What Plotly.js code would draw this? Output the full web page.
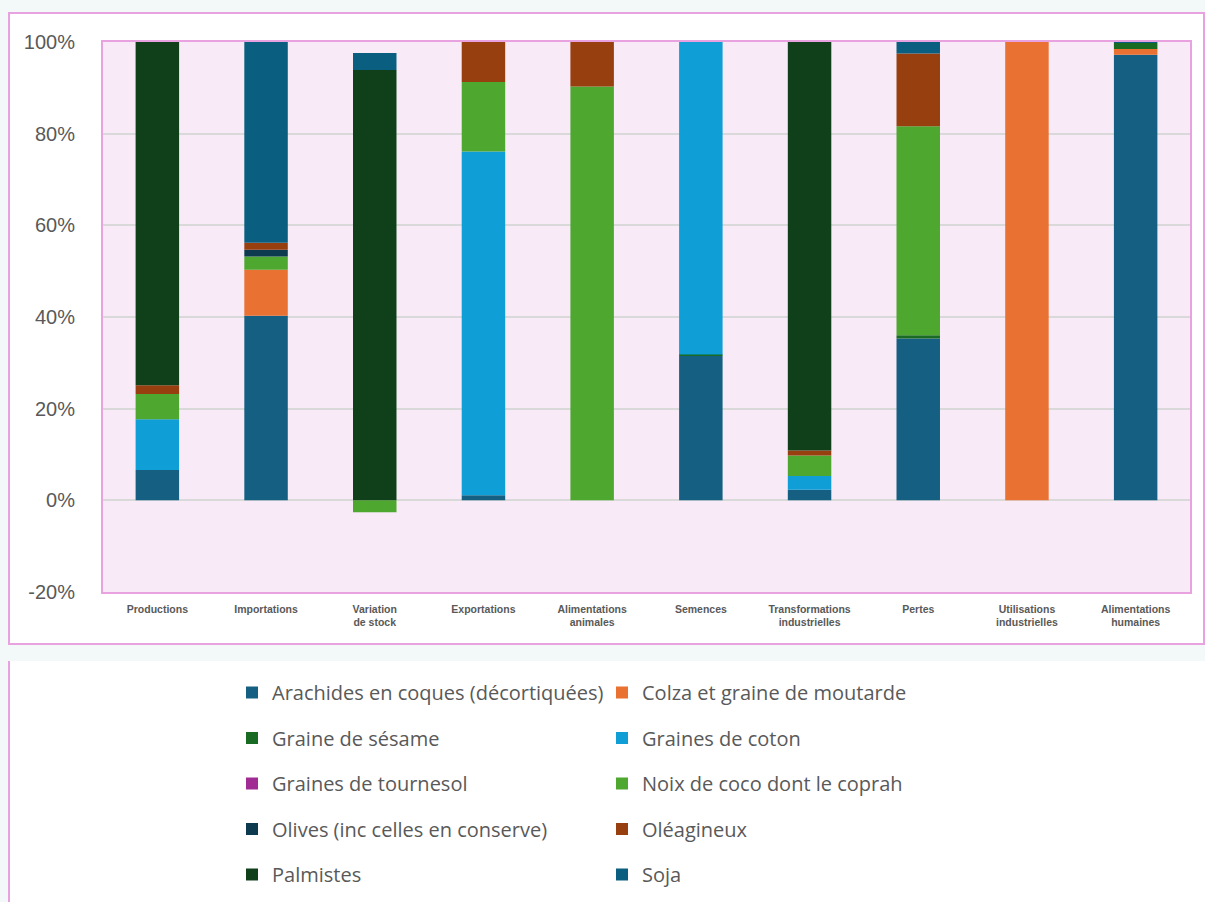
<!DOCTYPE html>
<html>
<head>
<meta charset="utf-8">
<script src="https://cdn.plot.ly/plotly-3.0.1.min.js"></script>
<style>
  html, body { margin:0; padding:0; background:#F3F8F8; width:1205px; height:902px; overflow:hidden; }
  #box1 { position:absolute; left:8px; top:12px; width:1193px; height:629px; background:#FFFFFF; border:2px solid #E8A2DF; }
  #box2 { position:absolute; left:8px; top:661px; width:1197px; height:241px; background:#FFFFFF; border-left:2px solid #E8A2DF; }
  #chart { position:absolute; left:0; top:0; width:1205px; height:902px; }
</style>
</head>
<body>
<div id="box1"></div>
<div id="box2"></div>
<div id="chart"></div>
<script>
const categories = ["Productions", "Importations", "Variation<br>de stock", "Exportations", "Alimentations<br>animales", "Semences", "Transformations<br>industrielles", "Pertes", "Utilisations<br>industrielles", "Alimentations<br>humaines"];

const seriesNames = ["Arachides en coques (décortiquées)", "Colza et graine de moutarde", "Graine de sésame", "Graines de coton", "Graines de tournesol", "Noix de coco dont le coprah", "Olives (inc celles en conserve)", "Oléagineux", "Palmistes", "Soja"];

const arachides  = [6.6, 40.3, 0, 1.1, 0, 31.5, 2.3, 35.3, 0, 97.2];
const colza      = [0, 10.0, 0, 0, 0, 0, 0, 0, 100, 1.3];
const sesame     = [0, 0, 0, 0, 0, 0.3, 0, 0.7, 0, 1.3];
const coton      = [11.1, 0, 0, 75.0, 0, 68.2, 3.0, 0, 0, 0];
const tournesol  = [0, 0, 0, 0, 0, 0, 0, 0, 0, 0];
const noixCoco   = [5.5, 2.9, -2.6, 15.2, 90.3, 0, 4.5, 45.6, 0, 0];
const olives     = [0, 1.5, 0, 0, 0, 0, 0, 0, 0, 0];
const oleagineux = [1.9, 1.5, 0, 8.7, 9.7, 0, 1.1, 15.9, 0, 0];
const palmistes  = [74.9, 0, 93.9, 0, 0, 0, 89.1, 0, 0, 0];
const soja       = [0, 43.8, 3.7, 0, 0, 0, 0, 2.5, 0, 0.2];

const yTickVals = [-20, 0, 20, 40, 60, 80, 100];
const yTickText = ["-20%", "0%", "20%", "40%", "60%", "80%", "100%"];

const seriesValues = [arachides, colza, sesame, coton, tournesol, noixCoco, olives, oleagineux, palmistes, soja];
const colors = ["#156082", "#E97132", "#196B24", "#0F9ED5", "#A02B93", "#4EA72E", "#0D3A4E", "#983F10", "#10401A", "#0A5F80"];

const traces = seriesNames.map((name, i) => ({
  type: "bar",
  name: name,
  x: categories,
  y: seriesValues[i],
  marker: { color: colors[i], line: { width: 0 } },
  legend: (i % 2 === 0) ? "legend" : "legend2",
  legendgroup: "g" + i,
  hovertemplate: "%{y}%<extra>" + name + "</extra>"
}));

const legendFont = { family: "'Open Sans', Roboto, sans-serif", size: 20, color: "#595959" };

const layout = {
  width: 1205,
  height: 902,
  barmode: "relative",
  bargap: 0.6,
  paper_bgcolor: "rgba(0,0,0,0)",
  plot_bgcolor: "#F9EAF8",
  margin: { l: 103, r: 15, t: 42, b: 310, autoexpand: false },
  font: { family: "'Open Sans', Roboto, sans-serif", color: "#595959" },
  xaxis: {
    type: "category",
    showline: true, mirror: true, linecolor: "#E8A2DF", linewidth: 2,
    showgrid: false,
    tickangle: 0,
    tickfont: { family: "'Liberation Sans', Arial, sans-serif", size: 10.5, color: "#595959", weight: "bold" },
    ticks: "", ticklabelstandoff: 6
  },
  yaxis: {
    range: [-20, 100],
    tickvals: yTickVals,
    ticktext: yTickText,
    showline: true, mirror: true, linecolor: "#E8A2DF", linewidth: 2,
    gridcolor: "#D9D9D9", gridwidth: 1.5,
    zeroline: true, zerolinecolor: "#D9D9D9", zerolinewidth: 1.5,
    tickfont: { family: "'Liberation Sans', Arial, sans-serif", size: 20, color: "#595959" },
    ticks: "", ticklabelstandoff: 22
  },
  showlegend: true,
  legend: {
    xref: "container", yref: "container",
    x: 232 / 1205, y: 1 - 673 / 902,
    xanchor: "left", yanchor: "top",
    orientation: "v",
    bgcolor: "rgba(0,0,0,0)",
    font: legendFont,
    tracegroupgap: 16.5,
    itemclick: false, itemdoubleclick: false
  },
  legend2: {
    xref: "container", yref: "container",
    x: 602 / 1205, y: 1 - 673 / 902,
    xanchor: "left", yanchor: "top",
    orientation: "v",
    bgcolor: "rgba(0,0,0,0)",
    font: legendFont,
    tracegroupgap: 16.5,
    itemclick: false, itemdoubleclick: false
  }
};

Plotly.newPlot("chart", traces, layout, { displayModeBar: false });
</script>
</body>
</html>
